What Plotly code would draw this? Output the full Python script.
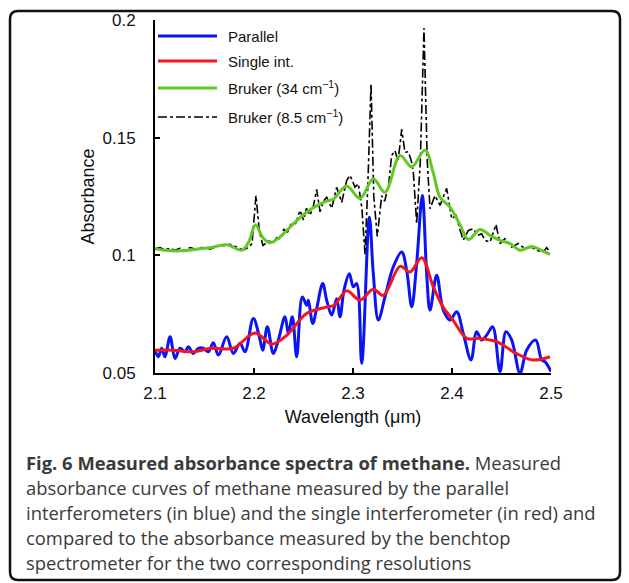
import plotly.graph_objects as go

# ---------------- data ----------------
par_wl = [2.1000, 2.1034, 2.1067, 2.1101, 2.1152, 2.1202, 2.1253, 2.1303, 2.1337, 2.1387,
          2.1438, 2.1488, 2.1539, 2.1589, 2.1640, 2.1724, 2.1791, 2.1859, 2.1909, 2.1993,
          2.2054, 2.2088, 2.2135, 2.2195, 2.2246, 2.2313, 2.2347, 2.2387, 2.2431, 2.2488,
          2.2532, 2.2549, 2.2593, 2.2633, 2.2694, 2.2734, 2.2785, 2.2835, 2.2869, 2.2909,
          2.2963, 2.3003, 2.3037, 2.3088, 2.3165, 2.3205, 2.3256, 2.3323, 2.3407, 2.3492,
          2.3542, 2.3593, 2.3643, 2.3700, 2.3744, 2.3778, 2.3845, 2.3912, 2.3980, 2.4047,
          2.4114, 2.4192, 2.4249, 2.4300, 2.4350, 2.4411, 2.4485, 2.4545, 2.4603, 2.4687,
          2.4754, 2.4845, 2.4906, 2.4939, 2.5000]
par_abs = [0.0597, 0.0569, 0.0605, 0.0569, 0.0654, 0.0562, 0.0605, 0.0590, 0.0612, 0.0583,
           0.0605, 0.0605, 0.0590, 0.0629, 0.0576, 0.0654, 0.0583, 0.0626, 0.0590, 0.0732,
           0.0654, 0.0597, 0.0696, 0.0583, 0.0640, 0.0739, 0.0668, 0.0739, 0.0569, 0.0823,
           0.0788, 0.0809, 0.0710, 0.0774, 0.0880, 0.0809, 0.0746, 0.0816, 0.0739, 0.0852,
           0.0922, 0.0866, 0.0880, 0.0541, 0.1162, 0.0922, 0.0725, 0.0823, 0.0951, 0.1014,
           0.0936, 0.0781, 0.0965, 0.1254, 0.0922, 0.0767, 0.0915, 0.0767, 0.0725, 0.0760,
           0.0668, 0.0555, 0.0675, 0.0640, 0.0661, 0.0696, 0.0506, 0.0675, 0.0640, 0.0499,
           0.0597, 0.0640, 0.0555, 0.0548, 0.0506]

single_wl = [2.1000, 2.1185, 2.1387, 2.1570, 2.1790, 2.2010, 2.2180, 2.2330, 2.2530, 2.2730,
             2.2810, 2.2936, 2.3070, 2.3205, 2.3306, 2.3475, 2.3576, 2.3694, 2.3811, 2.3910,
             2.4010, 2.4150, 2.4280, 2.4450, 2.4650, 2.4820, 2.4990]
single_abs = [0.0597, 0.0597, 0.0590, 0.0605, 0.0605, 0.0670, 0.0623, 0.0660, 0.0753, 0.0780,
              0.0788, 0.0849, 0.0810, 0.0856, 0.0830, 0.0953, 0.0929, 0.0990, 0.0866, 0.0780,
              0.0725, 0.0647, 0.0647, 0.0633, 0.0583, 0.0555, 0.0569]

bruker34_wl = [2.1000, 2.1100, 2.1253, 2.1400, 2.1550, 2.1724, 2.1880, 2.1950, 2.2015, 2.2090,
               2.2162, 2.2263, 2.2397, 2.2532, 2.2633, 2.2734, 2.2800, 2.2936, 2.3071, 2.3205,
               2.3323, 2.3475, 2.3593, 2.3727, 2.3811, 2.3879, 2.3980, 2.4081, 2.4165, 2.4283,
               2.4384, 2.4485, 2.4586, 2.4687, 2.4805, 2.4906, 2.4990]
bruker34_abs = [0.1028, 0.1022, 0.1019, 0.1025, 0.1032, 0.1045, 0.1022, 0.1060, 0.1130, 0.1075,
                0.1054, 0.1078, 0.1134, 0.1184, 0.1210, 0.1230, 0.1238, 0.1295, 0.1242, 0.1325,
                0.1268, 0.1424, 0.1376, 0.1447, 0.1350, 0.1247, 0.1205, 0.1130, 0.1067, 0.1110,
                0.1085, 0.1064, 0.1050, 0.1022, 0.1038, 0.1021, 0.1004]

bruker85_wl = [2.1000, 2.1050, 2.1100, 2.1150, 2.1200, 2.1250, 2.1300, 2.1354, 2.1421, 2.1488,
               2.1556, 2.1623, 2.1690, 2.1758, 2.1825, 2.1892, 2.1943, 2.1980, 2.2020, 2.2055,
               2.2090, 2.2150, 2.2200, 2.2229, 2.2270, 2.2300, 2.2340, 2.2380, 2.2420, 2.2465,
               2.2500, 2.2530, 2.2566, 2.2600, 2.2633, 2.2667, 2.2700, 2.2734, 2.2785, 2.2835,
               2.2886, 2.2936, 2.2970, 2.3020, 2.3054, 2.3090, 2.3121, 2.3150, 2.3182, 2.3210,
               2.3245, 2.3270, 2.3290, 2.3320, 2.3360, 2.3390, 2.3424, 2.3455, 2.3492, 2.3525,
               2.3560, 2.3590, 2.3610, 2.3643, 2.3680, 2.3717, 2.3750, 2.3778, 2.3828, 2.3879,
               2.3946, 2.3997, 2.4040, 2.4080, 2.4114, 2.4165, 2.4215, 2.4260, 2.4300, 2.4333,
               2.4384, 2.4444, 2.4485, 2.4535, 2.4603, 2.4670, 2.4737, 2.4800, 2.4855, 2.4923,
               2.4956, 2.4990]
bruker85_abs = [0.1028, 0.1033, 0.1024, 0.1030, 0.1022, 0.1030, 0.1021, 0.1033, 0.1025, 0.1035,
                0.1026, 0.1038, 0.1041, 0.1047, 0.1035, 0.1022, 0.1033, 0.1050, 0.1254, 0.1100,
                0.1042, 0.1060, 0.1055, 0.1075, 0.1070, 0.1110, 0.1100, 0.1140, 0.1135, 0.1191,
                0.1150, 0.1200, 0.1170, 0.1210, 0.1280, 0.1185, 0.1230, 0.1247, 0.1200, 0.1289,
                0.1225, 0.1318, 0.1340, 0.1290, 0.1304, 0.1200, 0.1005, 0.1300, 0.1728, 0.1250,
                0.1080, 0.1180, 0.1254, 0.1230, 0.1300, 0.1424, 0.1445, 0.1400, 0.1535, 0.1438,
                0.1440, 0.1400, 0.1350, 0.1135, 0.1400, 0.1965, 0.1400, 0.1198, 0.1254, 0.1212,
                0.1285, 0.1155, 0.1170, 0.1110, 0.1065, 0.1106, 0.1113, 0.1085, 0.1092, 0.1064,
                0.1056, 0.1131, 0.1050, 0.1071, 0.1035, 0.1050, 0.1028, 0.1035, 0.1021, 0.1014,
                0.1033, 0.1014]

x_ticks = [2.1, 2.2, 2.3, 2.4, 2.5]
y_ticks = [0.05, 0.1, 0.15, 0.2]

legend_names = ["Parallel", "Single int.",
                "Bruker (34 cm<sup>\u22121</sup>)", "Bruker (8.5 cm<sup>\u22121</sup>)"]
caption_lines = [
    "<b>Fig. 6 Measured absorbance spectra of methane.</b> Measured",
    "absorbance curves of methane measured by the parallel",
    "interferometers (in blue) and the single interferometer (in red) and",
    "compared to the absorbance measured by the benchtop",
    "spectrometer for the two corresponding resolutions",
]

# ---------------- styles ----------------
BLUE = "#0a14f5"
RED = "#f5141e"
GREEN = "#62c823"
BLACK = "#000000"
AXFONT = "Liberation Sans, Arial, sans-serif"

fig = go.Figure()
fig.add_trace(go.Scatter(x=par_wl, y=par_abs, mode="lines", name=legend_names[0],
                         line=dict(color=BLUE, width=3, shape="spline", smoothing=1.0)))
fig.add_trace(go.Scatter(x=single_wl, y=single_abs, mode="lines", name=legend_names[1],
                         line=dict(color=RED, width=3, shape="spline", smoothing=1.0)))
fig.add_trace(go.Scatter(x=bruker85_wl, y=bruker85_abs, mode="lines", name=legend_names[3],
                         line=dict(color=BLACK, width=1.6, dash="dashdot")))
fig.add_trace(go.Scatter(x=bruker34_wl, y=bruker34_abs, mode="lines", name=legend_names[2],
                         line=dict(color=GREEN, width=3, shape="spline", smoothing=1.0)))

# plot area in pixels: x 155..551, y 20..373
W, H = 629, 583
L, R, T, B = 155, 551, 20, 373
pw, ph = R - L, B - T


def px(xp):
    return (xp - L) / pw


def py(yp):
    return (B - yp) / ph


shapes = []
annotations = []

# manual legend
leg_colors = [BLUE, RED, GREEN, BLACK]
leg_y = [36, 61, 88, 117]
for name, col, yy in zip(legend_names, leg_colors, leg_y):
    is_black = col == BLACK
    shapes.append(dict(type="line", xref="paper", yref="paper",
                       x0=px(158), x1=px(217), y0=py(yy), y1=py(yy),
                       line=dict(color=col, width=1.6 if is_black else 3,
                                 dash="dashdot" if is_black else "solid")))
    annotations.append(dict(xref="paper", yref="paper", x=px(226), y=py(yy),
                            text=name, showarrow=False, xanchor="left", yanchor="middle",
                            font=dict(family=AXFONT, size=15, color="#111")))

# caption
cap_y = [462, 487, 512, 537, 562]
for line, yy in zip(caption_lines, cap_y):
    annotations.append(dict(xref="paper", yref="paper", x=px(24), y=py(yy),
                            text=line, showarrow=False, xanchor="left", yanchor="middle",
                            font=dict(family="Open Sans, sans-serif", size=18.4, color="#3a3a3a")))

# outer rounded frame
fl, fr, ft, fb = 10, 620, 11, 580
rx, ry = 8 / pw, 8 / ph
a, b, c, d = px(fl), px(fr), py(ft), py(fb)
path = (f"M {a+rx},{c} L {b-rx},{c} Q {b},{c} {b},{c-ry} L {b},{d+ry} Q {b},{d} {b-rx},{d} "
        f"L {a+rx},{d} Q {a},{d} {a},{d+ry} L {a},{c-ry} Q {a},{c} {a+rx},{c} Z")
shapes.append(dict(type="path", xref="paper", yref="paper", path=path,
                   line=dict(color="#111", width=2.5), layer="above"))

fig.update_layout(
    width=W, height=H,
    margin=dict(l=L, r=W - R, t=T, b=H - B, pad=0),
    paper_bgcolor="white", plot_bgcolor="white",
    showlegend=False,
    shapes=shapes, annotations=annotations,
    font=dict(family=AXFONT, size=17, color="#111"),
)
fig.update_xaxes(range=[2.1, 2.5], tickvals=x_ticks, ticktext=[f"{v:.1f}" for v in x_ticks],
                 showgrid=False, zeroline=False, showline=True, linecolor="black", linewidth=2,
                 ticks="inside", ticklen=5, tickwidth=1.5, tickcolor="black",
                 tickfont=dict(family=AXFONT, size=17, color="#111"),
                 ticklabelstandoff=4,
                 title=dict(text="Wavelength (\u03bcm)", standoff=8,
                            font=dict(family=AXFONT, size=18, color="#111")))
fig.update_yaxes(range=[0.05, 0.2], tickvals=y_ticks, ticktext=["0.05", "0.1", "0.15", "0.2"],
                 showgrid=False, zeroline=False, showline=True, linecolor="black", linewidth=2,
                 ticks="inside", ticklen=5, tickwidth=1.5, tickcolor="black",
                 tickfont=dict(family=AXFONT, size=17, color="#111"),
                 ticklabelstandoff=14,
                 title=dict(text="Absorbance", standoff=3,
                            font=dict(family=AXFONT, size=18, color="#111")))

fig.write_html("out.html", config={"displayModeBar": False},
               post_script="document.body.style.margin='0';")
